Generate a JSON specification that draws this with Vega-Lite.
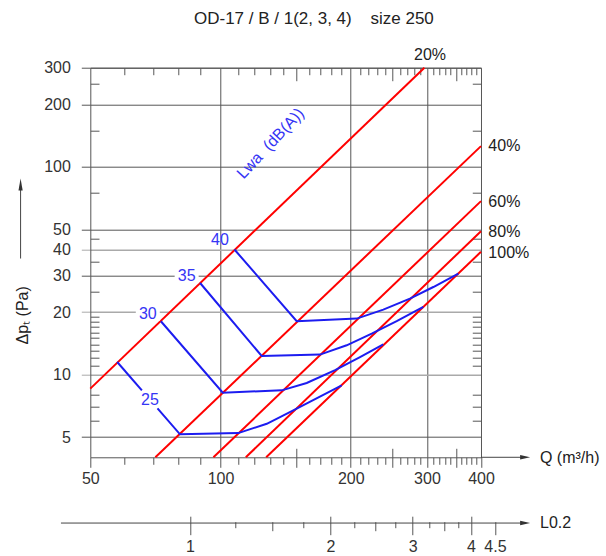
{
  "$schema": "https://vega.github.io/schema/vega-lite/v6.json",
  "autosize": {"type": "none"},
  "padding": {"left": 90.3, "top": 67.7, "right": 124.7, "bottom": 98.7},
  "width": 390.7,
  "height": 389.6,
  "background": "white",
  "config": {"view": {"stroke": null}, "font": "Liberation Sans", "axis": {"labelFont": "Liberation Sans", "labelFontSize": 16, "labelColor": "#333333", "labelFlush": false, "labelOverlap": false}},
  "datasets": {
    "dummy": [{"Q": 100, "dp": 10, "L": 1}],
    "red": [
      {"s": "20%", "Q": 50, "dp": 8.56}, {"s": "20%", "Q": 296, "dp": 300},
      {"s": "40%", "Q": 70.7, "dp": 4}, {"s": "40%", "Q": 400, "dp": 125.8},
      {"s": "60%", "Q": 96.3, "dp": 4}, {"s": "60%", "Q": 400, "dp": 68.4},
      {"s": "80%", "Q": 114.4, "dp": 4}, {"s": "80%", "Q": 400, "dp": 49},
      {"s": "100%", "Q": 127.5, "dp": 4}, {"s": "100%", "Q": 400, "dp": 39}
    ],
    "blue": [
      {"seg": "25a", "o": 1, "Q": 57.7, "dp": 11.5}, {"seg": "25a", "o": 2, "Q": 65.8, "dp": 8.4},
      {"seg": "25b", "o": 1, "Q": 71.5, "dp": 6.88}, {"seg": "25b", "o": 2, "Q": 80.6, "dp": 5.16}, {"seg": "25b", "o": 3, "Q": 109.9, "dp": 5.23}, {"seg": "25b", "o": 4, "Q": 127.9, "dp": 5.8}, {"seg": "25b", "o": 5, "Q": 147.3, "dp": 6.73}, {"seg": "25b", "o": 6, "Q": 190.6, "dp": 8.88},
      {"seg": "30", "o": 1, "Q": 72.8, "dp": 18.06}, {"seg": "30", "o": 2, "Q": 101.2, "dp": 8.19}, {"seg": "30", "o": 3, "Q": 138.5, "dp": 8.4}, {"seg": "30", "o": 4, "Q": 158.2, "dp": 9.11}, {"seg": "30", "o": 5, "Q": 184, "dp": 10.5}, {"seg": "30", "o": 6, "Q": 210.1, "dp": 12.15}, {"seg": "30", "o": 7, "Q": 237.8, "dp": 14.0},
      {"seg": "35", "o": 1, "Q": 89.7, "dp": 27.6}, {"seg": "35", "o": 2, "Q": 124.5, "dp": 12.29}, {"seg": "35", "o": 3, "Q": 169.8, "dp": 12.48}, {"seg": "35", "o": 4, "Q": 195.7, "dp": 13.84}, {"seg": "35", "o": 5, "Q": 223.6, "dp": 15.76}, {"seg": "35", "o": 6, "Q": 255.4, "dp": 18.1}, {"seg": "35", "o": 7, "Q": 294.3, "dp": 21.2},
      {"seg": "40", "o": 1, "Q": 107.7, "dp": 40}, {"seg": "40", "o": 2, "Q": 150, "dp": 18.06}, {"seg": "40", "o": 3, "Q": 206.5, "dp": 18.6}, {"seg": "40", "o": 4, "Q": 237.8, "dp": 20.56}, {"seg": "40", "o": 5, "Q": 274, "dp": 23.2}, {"seg": "40", "o": 6, "Q": 310.4, "dp": 26.4}, {"seg": "40", "o": 7, "Q": 354.6, "dp": 30.6}
    ],
    "lwaLabels": [
      {"t": "40", "Q": 99.7, "dp": 44.4},
      {"t": "35", "Q": 83.5, "dp": 29.85},
      {"t": "30", "Q": 67.9, "dp": 19.67},
      {"t": "25", "Q": 68.7, "dp": 7.52}
    ],
    "labelBoxes": [
      {"t": "35", "Q": 83.5, "dp": 29.85},
      {"t": "30", "Q": 67.9, "dp": 19.67}
    ],
    "lwaTitle": [{"t": "Lwa\u00a0\u00a0(dB(A))", "Q": 130.5, "dp": 129.5}],
    "pct": [
      {"t": "20%", "Q": 280.1, "dp": 345.1},
      {"t": "40%", "Q": 416, "dp": 125.8},
      {"t": "60%", "Q": 416, "dp": 68.1},
      {"t": "80%", "Q": 416, "dp": 48.5},
      {"t": "100%", "Q": 416, "dp": 38.6}
    ],
    "chartTitle": [{"t": "OD-17 / B / 1(2, 3, 4)\u00a0\u00a0\u00a0\u00a0size 250", "Q": 164.4, "dp": 514.6}],
    "axisTitles": [
      {"t": "Q (m\u00b3/h)", "Q": 547.6, "dp": 3.98},
      {"t": "L0.2", "Q": 547.6, "dp": 1.93}
    ],
    "yTitle": [{"t": "\u0394p\u209c (Pa)", "Q": 34.9, "dp": 19.3}],
    "rules": [
      {"Q": 400, "Q2": 497.6, "dp": 4, "dp2": 4},
      {"Q": 42.77, "Q2": 497.6, "dp": 1.93, "dp2": 1.93},
      {"Q": 34.5, "Q2": 34.5, "dp": 36.2, "dp2": 79}
    ],
    "arrowsRight": [
      {"Q": 505.9, "dp": 4},
      {"Q": 505.9, "dp": 1.93}
    ],
    "arrowsUp": [{"Q": 34.5, "dp": 82.3}]
  },
  "layer": [
    {
      "layer": [
        {
          "data": {"name": "dummy"},
          "mark": {"type": "point", "opacity": 0},
          "encoding": {
            "x": {"field": "Q", "type": "quantitative", "scale": {"type": "log", "domain": [50, 400], "nice": false},
              "axis": {"orient": "bottom", "title": null,
                "values": [50,60,70,80,90,100,110,120,130,140,150,160,170,180,190,200,210,220,230,240,250,260,270,280,290,300,310,320,330,340,350,360,370,380,390,400],
                "labelExpr": "indexof([50,100,200,300,400], datum.value) >= 0 ? '' + datum.value : ''",
                "tickSize": {"condition": {"test": "datum.value % 50 === 0", "value": 10}, "value": 7},
                "tickColor": "#555555", "domainColor": "#555555", "labelPadding": 3,
                "grid": true, "gridColor": "#555555",
                "gridOpacity": {"condition": {"test": "datum.value === 100 || datum.value === 200 || datum.value === 300", "value": 1}, "value": 0}
              }},
            "y": {"field": "dp", "type": "quantitative", "scale": {"type": "log", "domain": [4, 300], "nice": false},
              "axis": {"orient": "left", "title": null,
                "values": [5,10,20,30,40,50,100,200,300],
                "tickSize": 9, "labelPadding": 11, "domainColor": "#555555",
                "tickColor": {"condition": {"test": "datum.value === 10 || datum.value === 20 || datum.value === 40", "value": "#aaaaaa"}, "value": "#555555"},
                "grid": true,
                "gridColor": {"condition": {"test": "datum.value === 10 || datum.value === 20 || datum.value === 40", "value": "#aaaaaa"}, "value": "#555555"},
                "gridWidth": {"condition": {"test": "datum.value === 10 || datum.value === 20 || datum.value === 40", "value": 1.4}, "value": 1}
              }}
          }
        },
        {
          "data": {"name": "dummy"},
          "mark": {"type": "point", "opacity": 0},
          "encoding": {
            "x": {"field": "Q", "type": "quantitative", "scale": {"type": "log", "domain": [50, 400], "nice": false},
              "axis": {"orient": "top", "title": null, "labels": false, "grid": false,
                "values": [60,70,80,90,110,120,130,140,150,160,170,180,190,210,220,230,240,250,260,270,280,290,310,320,330,340,350,360,370,380,390],
                "tickSize": {"condition": {"test": "datum.value === 150 || datum.value === 250 || datum.value === 350", "value": -13}, "value": -7},
                "tickColor": "#555555", "domainColor": "#555555"
              }},
            "y": {"field": "dp", "type": "quantitative", "scale": {"type": "log", "domain": [4, 300], "nice": false},
              "axis": {"orient": "right", "title": null, "labels": false, "grid": false,
                "values": [6,7,8,11,12,13,14,15,16,17,18,19,25,35,45,75,150,250],
                "tickSize": -8.7, "tickColor": "#555555", "domainColor": "#555555"
              }}
          }
        },
        {
          "data": {"name": "dummy"},
          "mark": {"type": "point", "opacity": 0},
          "encoding": {
            "x": {"field": "Q", "type": "quantitative", "scale": {"type": "log", "domain": [50, 400], "nice": false},
              "axis": {"orient": "bottom", "title": null, "labels": false, "grid": false, "domain": false,
                "values": [150, 250, 350], "tickSize": -9, "tickColor": "#555555"
              }},
            "y": {"field": "dp", "type": "quantitative", "scale": {"type": "log", "domain": [4, 300], "nice": false},
              "axis": {"orient": "left", "title": null, "labels": false, "grid": false, "domain": false,
                "values": [6,7,8,11,12,13,14,15,16,17,18,19,25,35,45,75,150,250],
                "tickSize": -8.7, "tickColor": "#555555"
              }}
          }
        },
        {
          "data": {"name": "red"},
          "mark": {"type": "line", "color": "#ff0000", "strokeWidth": 2},
          "encoding": {
            "x": {"field": "Q", "type": "quantitative", "scale": {"type": "log", "domain": [50, 400], "nice": false}, "axis": null},
            "y": {"field": "dp", "type": "quantitative", "scale": {"type": "log", "domain": [4, 300], "nice": false}, "axis": null},
            "detail": {"field": "s"}
          }
        },
        {
          "data": {"name": "blue"},
          "mark": {"type": "line", "color": "#1c1cf0", "strokeWidth": 2},
          "encoding": {
            "x": {"field": "Q", "type": "quantitative", "scale": {"type": "log", "domain": [50, 400], "nice": false}, "axis": null},
            "y": {"field": "dp", "type": "quantitative", "scale": {"type": "log", "domain": [4, 300], "nice": false}, "axis": null},
            "detail": {"field": "seg"},
            "order": {"field": "o"}
          }
        },
        {
          "data": {"name": "labelBoxes"},
          "mark": {"type": "point", "shape": "M-1,-0.6L1,-0.6L1,0.6L-1,0.6Z", "size": 576, "filled": true, "color": "white", "opacity": 1, "strokeWidth": 0},
          "encoding": {
            "x": {"field": "Q", "type": "quantitative", "scale": {"type": "log", "domain": [50, 400], "nice": false}, "axis": null},
            "y": {"field": "dp", "type": "quantitative", "scale": {"type": "log", "domain": [4, 300], "nice": false}, "axis": null}
          }
        },
        {
          "data": {"name": "lwaLabels"},
          "mark": {"type": "text", "color": "#3535f5", "fontSize": 16, "align": "center", "baseline": "middle"},
          "encoding": {
            "x": {"field": "Q", "type": "quantitative", "scale": {"type": "log", "domain": [50, 400], "nice": false}, "axis": null},
            "y": {"field": "dp", "type": "quantitative", "scale": {"type": "log", "domain": [4, 300], "nice": false}, "axis": null},
            "text": {"field": "t"}
          }
        },
        {
          "data": {"name": "lwaTitle"},
          "mark": {"type": "text", "color": "#3535f5", "fontSize": 16, "align": "center", "baseline": "middle", "angle": 313},
          "encoding": {
            "x": {"field": "Q", "type": "quantitative", "scale": {"type": "log", "domain": [50, 400], "nice": false}, "axis": null},
            "y": {"field": "dp", "type": "quantitative", "scale": {"type": "log", "domain": [4, 300], "nice": false}, "axis": null},
            "text": {"field": "t"}
          }
        },
        {
          "data": {"name": "pct"},
          "mark": {"type": "text", "color": "#222222", "fontSize": 16, "align": "left", "baseline": "middle"},
          "encoding": {
            "x": {"field": "Q", "type": "quantitative", "scale": {"type": "log", "domain": [50, 400], "nice": false}, "axis": null},
            "y": {"field": "dp", "type": "quantitative", "scale": {"type": "log", "domain": [4, 300], "nice": false}, "axis": null},
            "text": {"field": "t"}
          }
        },
        {
          "data": {"name": "chartTitle"},
          "mark": {"type": "text", "color": "#222222", "fontSize": 17, "align": "center", "baseline": "middle"},
          "encoding": {
            "x": {"field": "Q", "type": "quantitative", "scale": {"type": "log", "domain": [50, 400], "nice": false}, "axis": null},
            "y": {"field": "dp", "type": "quantitative", "scale": {"type": "log", "domain": [4, 300], "nice": false}, "axis": null},
            "text": {"field": "t"}
          }
        },
        {
          "data": {"name": "axisTitles"},
          "mark": {"type": "text", "color": "#222222", "fontSize": 16, "align": "left", "baseline": "middle"},
          "encoding": {
            "x": {"field": "Q", "type": "quantitative", "scale": {"type": "log", "domain": [50, 400], "nice": false}, "axis": null},
            "y": {"field": "dp", "type": "quantitative", "scale": {"type": "log", "domain": [4, 300], "nice": false}, "axis": null},
            "text": {"field": "t"}
          }
        },
        {
          "data": {"name": "yTitle"},
          "mark": {"type": "text", "color": "#222222", "fontSize": 16, "align": "center", "baseline": "middle", "angle": 270},
          "encoding": {
            "x": {"field": "Q", "type": "quantitative", "scale": {"type": "log", "domain": [50, 400], "nice": false}, "axis": null},
            "y": {"field": "dp", "type": "quantitative", "scale": {"type": "log", "domain": [4, 300], "nice": false}, "axis": null},
            "text": {"field": "t"}
          }
        },
        {
          "data": {"name": "rules"},
          "mark": {"type": "rule", "color": "#444444", "strokeWidth": 1},
          "encoding": {
            "x": {"field": "Q", "type": "quantitative", "scale": {"type": "log", "domain": [50, 400], "nice": false}, "axis": null},
            "x2": {"field": "Q2"},
            "y": {"field": "dp", "type": "quantitative", "scale": {"type": "log", "domain": [4, 300], "nice": false}, "axis": null},
            "y2": {"field": "dp2"}
          }
        },
        {
          "data": {"name": "arrowsRight"},
          "mark": {"type": "point", "shape": "M1,0L-1,0.45L-1,-0.45Z", "size": 100, "filled": true, "color": "#333333", "opacity": 1},
          "encoding": {
            "x": {"field": "Q", "type": "quantitative", "scale": {"type": "log", "domain": [50, 400], "nice": false}, "axis": null},
            "y": {"field": "dp", "type": "quantitative", "scale": {"type": "log", "domain": [4, 300], "nice": false}, "axis": null}
          }
        },
        {
          "data": {"name": "arrowsUp"},
          "mark": {"type": "point", "shape": "M0,-1.2L0.42,1.2L-0.42,1.2Z", "size": 100, "filled": true, "color": "#333333", "opacity": 1},
          "encoding": {
            "x": {"field": "Q", "type": "quantitative", "scale": {"type": "log", "domain": [50, 400], "nice": false}, "axis": null},
            "y": {"field": "dp", "type": "quantitative", "scale": {"type": "log", "domain": [4, 300], "nice": false}, "axis": null}
          }
        }
      ],
      "resolve": {"axis": {"x": "independent", "y": "independent"}}
    },
    {
      "data": {"name": "dummy"},
      "mark": {"type": "point", "opacity": 0},
      "encoding": {
        "x": {"field": "L", "type": "quantitative", "scale": {"type": "log", "domain": [0.6115, 4.8], "range": [0, 417.7], "nice": false},
          "axis": {"orient": "bottom", "offset": 64.4, "title": null, "domain": false, "grid": false,
            "values": [1,1.25,1.5,1.75,2,2.25,2.5,2.75,3,3.25,3.5,3.75,4,4.5],
            "labelExpr": "indexof([1,2,3,4,4.5], datum.value) >= 0 ? '' + datum.value : ''",
            "tickSize": {"condition": [{"test": "indexof([1,2,3,4,4.5], datum.value) >= 0", "value": 13}, {"test": "datum.value === 1.5 || datum.value === 2.5 || datum.value === 3.5", "value": 9}], "value": 6},
            "tickColor": "#555555", "labelPadding": 4
          }}
      }
    },
    {
      "data": {"name": "dummy"},
      "mark": {"type": "point", "opacity": 0},
      "encoding": {
        "x": {"field": "L", "type": "quantitative", "scale": {"type": "log", "domain": [0.6115, 4.8], "range": [0, 417.7], "nice": false},
          "axis": {"orient": "bottom", "offset": 64.4, "title": null, "domain": false, "grid": false, "labels": false,
            "values": [1, 2, 3, 4], "tickSize": -5.5, "tickColor": "#555555"
          }}
      }
    }
  ],
  "resolve": {"scale": {"x": "independent"}, "axis": {"x": "independent"}}
}
